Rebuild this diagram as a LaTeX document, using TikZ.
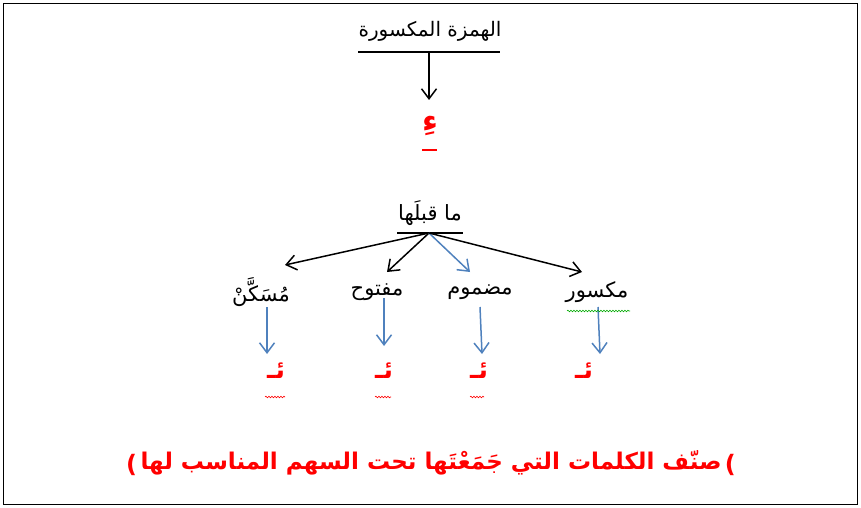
\documentclass[tikz,border=0pt]{standalone}
\usepackage{fontspec}
\newfontfamily\arabicfont[Script=Arabic]{DejaVu Sans}
\newfontfamily\plainfont{DejaVu Sans}
\TeXXeTstate=1
\usetikzlibrary{arrows.meta,decorations.pathmorphing}
\definecolor{arrowblue}{RGB}{79,129,189}
\definecolor{spellgreen}{RGB}{0,170,0}
\tikzset{
  lbl/.style={font=\arabicfont\fontsize{21}{24}\selectfont, inner sep=0pt, text=black},
  redlbl/.style={font=\arabicfont\fontsize{25}{28}\selectfont\bfseries, inner sep=0pt, text=red},
  blackarrow/.style={draw=black, line width=1.5pt, -{Straight Barb[length=10pt,width=15pt]}},
  bluearrow/.style={draw=arrowblue, line width=1.5pt, -{Straight Barb[length=10pt,width=15pt]}},
  rule/.style={draw=black, line width=1.5pt},
  squiggle/.style={decorate, decoration={snake, amplitude=0.8pt, segment length=3pt}, line width=0.6pt},
}
\begin{document}
\begin{tikzpicture}[x=1pt,y=-1pt]
\useasboundingbox (0,0) rectangle (861,508);
\draw[line width=1pt] (3,4) rectangle (857,504);

% title
\node[lbl, font=\arabicfont\fontsize{20}{24}\selectfont] (title) at (430,31) {\beginR الهمزة المكسورة\endR};
\coordinate (tl) at (358,52);
\coordinate (tr) at (500,52);
\coordinate (tc) at (429,52);
\draw[rule] (tl) -- (tr);

% hamza
\node[redlbl, font=\arabicfont\fontsize{31}{33}\selectfont\bfseries] (hamza) at (430,126) {\beginR ءِ\endR};
\coordinate (hin) at (429,100);
\draw[blackarrow] (tc) -- (hin);
\coordinate (hul) at (422,150);
\coordinate (hur) at (437,150);
\draw[red, line width=2.5pt] (hul) -- (hur);

% ma qablaha
\node[lbl] (mq) at (430,213) {\beginR ما قبلَها\endR};
\coordinate (ml) at (397,233);
\coordinate (mr) at (463,233);
\coordinate (mc) at (429,233);
\draw[rule] (ml) -- (mr);

% categories
\node[lbl] (c1) at (261,292) {\beginR مُسَكَّنْ\endR};
\node[lbl] (c2) at (377,292) {\beginR مفتوح\endR};
\node[lbl] (c3) at (480,292) {\beginR مضموم\endR};
\node[lbl] (c4) at (597,292) {\beginR مكسور\endR};

\coordinate (e1) at (285,265);
\coordinate (e2) at (387,272);
\coordinate (e3) at (470,272);
\coordinate (e4) at (582,272);
\draw[blackarrow] (mc) -- (e1);
\draw[blackarrow] (mc) -- (e2);
\draw[bluearrow] (mc) -- (e3);
\draw[blackarrow] (mc) -- (e4);

% down arrows
\coordinate (d1s) at (267,307); \coordinate (d1e) at (267,354);
\coordinate (d2s) at (384,298); \coordinate (d2e) at (384,346);
\coordinate (d3s) at (480,307); \coordinate (d3e) at (482,354);
\coordinate (d4s) at (598,307); \coordinate (d4e) at (600,354);
\draw[bluearrow] (d1s) -- (d1e);
\draw[bluearrow] (d2s) -- (d2e);
\draw[bluearrow] (d3s) -- (d3e);
\draw[bluearrow] (d4s) -- (d4e);

% red letters
\node[redlbl] (r1) at (276,371) {\beginR ئـ\endR};
\node[redlbl] (r2) at (384,371) {\beginR ئـ\endR};
\node[redlbl] (r3) at (479,371) {\beginR ئـ\endR};
\node[redlbl] (r4) at (584,371) {\beginR ئـ\endR};

% spell-check squiggles
\coordinate (s1a) at (265,397); \coordinate (s1b) at (285,397);
\coordinate (s2a) at (375,397); \coordinate (s2b) at (391,397);
\coordinate (s3a) at (470,397); \coordinate (s3b) at (484,397);
\coordinate (s4a) at (567,311); \coordinate (s4b) at (630,311);
\draw[squiggle, red] (s1a) -- (s1b);
\draw[squiggle, red] (s2a) -- (s2b);
\draw[squiggle, red] (s3a) -- (s3b);
\draw[squiggle, spellgreen] (s4a) -- (s4b);

% instruction
\node[redlbl, font=\arabicfont\fontsize{23}{26}\selectfont\bfseries] (instr) at (431,463) {\beginR صنّف الكلمات التي جَمَعْتَها تحت السهم المناسب لها\endR};
\node[redlbl, font=\plainfont\fontsize{24}{26}\selectfont\bfseries, anchor=east] (pl) at ([xshift=-3pt,yshift=-2pt]instr.west) {(};
\node[redlbl, font=\plainfont\fontsize{24}{26}\selectfont\bfseries, anchor=west] (pr) at ([xshift=3pt,yshift=-2pt]instr.east) {(};
\end{tikzpicture}
\end{document}
